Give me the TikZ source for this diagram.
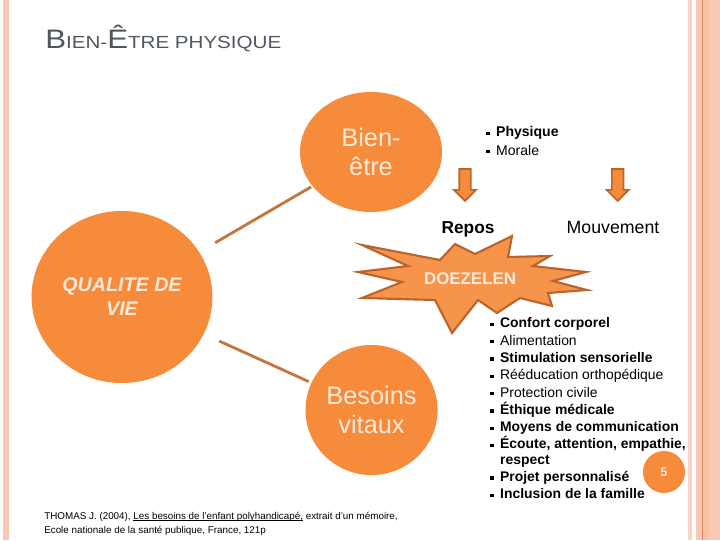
\documentclass[tikz,border=0pt]{standalone}
\usepackage{fontspec}
\setmainfont{Liberation Sans}
\usepackage{xcolor}
\usetikzlibrary{
	shapes.geometric,
	shapes.arrows,
	positioning
}
\definecolor{orangefond}{HTML}{F68B3C}
\definecolor{orangetrait}{HTML}{C4743F}
\definecolor{orangebord}{HTML}{BA642C}
\definecolor{creme}{HTML}{FDEADA}
\definecolor{titregris}{HTML}{50575F}
\definecolor{bande}{HTML}{F9C8B5}
\definecolor{bandeclair}{HTML}{FAD3C4}
\definecolor{bandefort}{HTML}{F9C0A6}
\definecolor{bandefil}{HTML}{DC8A62}

\tikzstyle{bulle} = [ellipse, fill=orangefond, inner sep=0pt, text=creme, align=center]
\tikzstyle{lien} = [draw=orangetrait, line width=2pt]
\tikzstyle{fleche} = [single arrow, draw=orangebord, fill=orangefond, line width=1.2pt, rotate=-90,
	minimum height=0.8cm, inner xsep=0pt, inner ysep=0.125cm,
	single arrow head extend=0.13cm, single arrow head indent=0pt]
\tikzstyle{etoile} = [draw=orangebord, fill=orangefond!92!white, line width=1.5pt, line join=miter]
\tikzstyle{liste} = [align=left, anchor=north west, inner sep=0pt]

\newcommand{\puce}{\makebox[7pt][l]{\rule[0.25ex]{2.3pt}{2.3pt}}}
\newcommand{\souligne}[1]{\setbox0\hbox{#1}\rlap{\rule[-1.3pt]{\wd0}{0.5pt}}\box0\relax}

\begin{document}
\begin{tikzpicture}[x=0.025cm, y=-0.025cm]
		
		\useasboundingbox (0,0) rectangle (720,540);
		
		% ====== Bandes de la diapositive ======
		\fill[bande] (3,0) rectangle (9,540);
		\fill[bandeclair] (688,0) rectangle (692,540);
		\fill[bande] (696,0) rectangle (702,540);
		\fill[bandefort] (703,0) rectangle (709,540);
		\fill[bande] (709,0) rectangle (720,540);
		\draw[bandefil, line width=0.8pt] (702.5,0) -- (702.5,540);
		
		% ====== Titre ======
		\node[anchor=base west, inner sep=0pt, text=titregris] (titre) at (45,48)
		{\scalebox{1.17}[1]{\fontsize{19}{19}\selectfont B\fontsize{12.5}{12.5}\selectfont IEN-\fontsize{19}{19}\selectfont Ê\fontsize{12.5}{12.5}\selectfont TRE PHYSIQUE}};
		
		% ====== Bulles ======
		\node[bulle, minimum width=4.52cm, minimum height=4.3cm,
		font={\bfseries\itshape\fontsize{14}{17}\selectfont}]
		(qv) at (122,297) {QUALITE DE\\VIE};
		
		\node[bulle, minimum width=3.55cm, minimum height=3.0cm,
		font={\fontsize{18}{21}\selectfont}]
		(be) at (371,152) {Bien-\\être};
		
		\node[bulle, minimum width=3.3cm, minimum height=3.25cm,
		font={\fontsize{18}{20}\selectfont}]
		(bv) at (371.5,410) {Besoins\\vitaux};
		
		\draw[lien, shorten <=13pt, shorten >=1pt] (qv) -- (be);
		\draw[lien, shorten <=12pt, shorten >=2pt] (qv) -- (bv);
		
		% ====== Physique / Morale ======
		\node[liste, anchor=base west, font={\fontsize{10}{12.9}\selectfont}]
		(pm) at (486,155) {\puce\textbf{Physique}\\\puce Morale};
		
		% ====== Flèches ======
		\node[fleche] (f1) at (465,182) {};
		\node[fleche] (f2) at (617.7,182) {};
		
		\node[anchor=base, inner sep=0pt, font={\bfseries\fontsize{12.3}{12.3}\selectfont}]
		(repos) at (468,233) {Repos};
		\node[anchor=base, inner sep=0pt, font={\fontsize{12.6}{12.6}\selectfont}]
		(mouv) at (613,233) {Mouvement};
		
		% ====== DOEZELEN ======
		\draw[etoile] (362,245) -- (440,260) -- (455,244) -- (475,254) -- (512,236)
		-- (508,257) -- (550,256) -- (533,266) -- (586,272) -- (553,281)
		-- (587,290) -- (548,293) -- (552,306) -- (520,298) -- (497,313)
		-- (478,300) -- (452,333) -- (435,300) -- (362,298) -- (402,282)
		-- (358,272) -- (408,266) -- cycle;
		\node[text=creme, font={\bfseries\fontsize{12}{12}\selectfont}]
		(doez) at (470,279) {DOEZELEN};
		
		% ====== Numéro ======
		\node[circle, fill=orangefond, minimum size=1.05cm, inner sep=0pt, text=creme,
		font={\bfseries\fontsize{9}{9}\selectfont}] (num) at (664,472) {5};
		
		% ====== Besoins ======
		\node[liste, font={\fontsize{9.9}{12.3}\selectfont}] (besoins) at (490,317.5)
		{\puce\textbf{Confort corporel}\\
			\puce Alimentation\\
			\puce\textbf{Stimulation sensorielle}\\
			\puce Rééducation orthopédique\\
			\puce Protection civile\\
			\puce\textbf{Éthique médicale}\\
			\puce\textbf{Moyens de communication}\\
			\puce\textbf{Écoute, attention, empathie,}\\[-1.5pt]
			\hspace*{7pt}\textbf{respect}\\
			\puce\textbf{Projet personnalisé}\\
			\puce\textbf{Inclusion de la famille}};
		
		% ====== Référence ======
		\node[liste, anchor=base west, font={\fontsize{7}{10}\selectfont}] (ref) at (44,533.3)
		{THOMAS J. (2004), \souligne{Les besoins de l'enfant polyhandicapé,} extrait d'un mémoire,\\
			Ecole nationale de la santé publique, France, 121p};
		
\end{tikzpicture}
\end{document}
